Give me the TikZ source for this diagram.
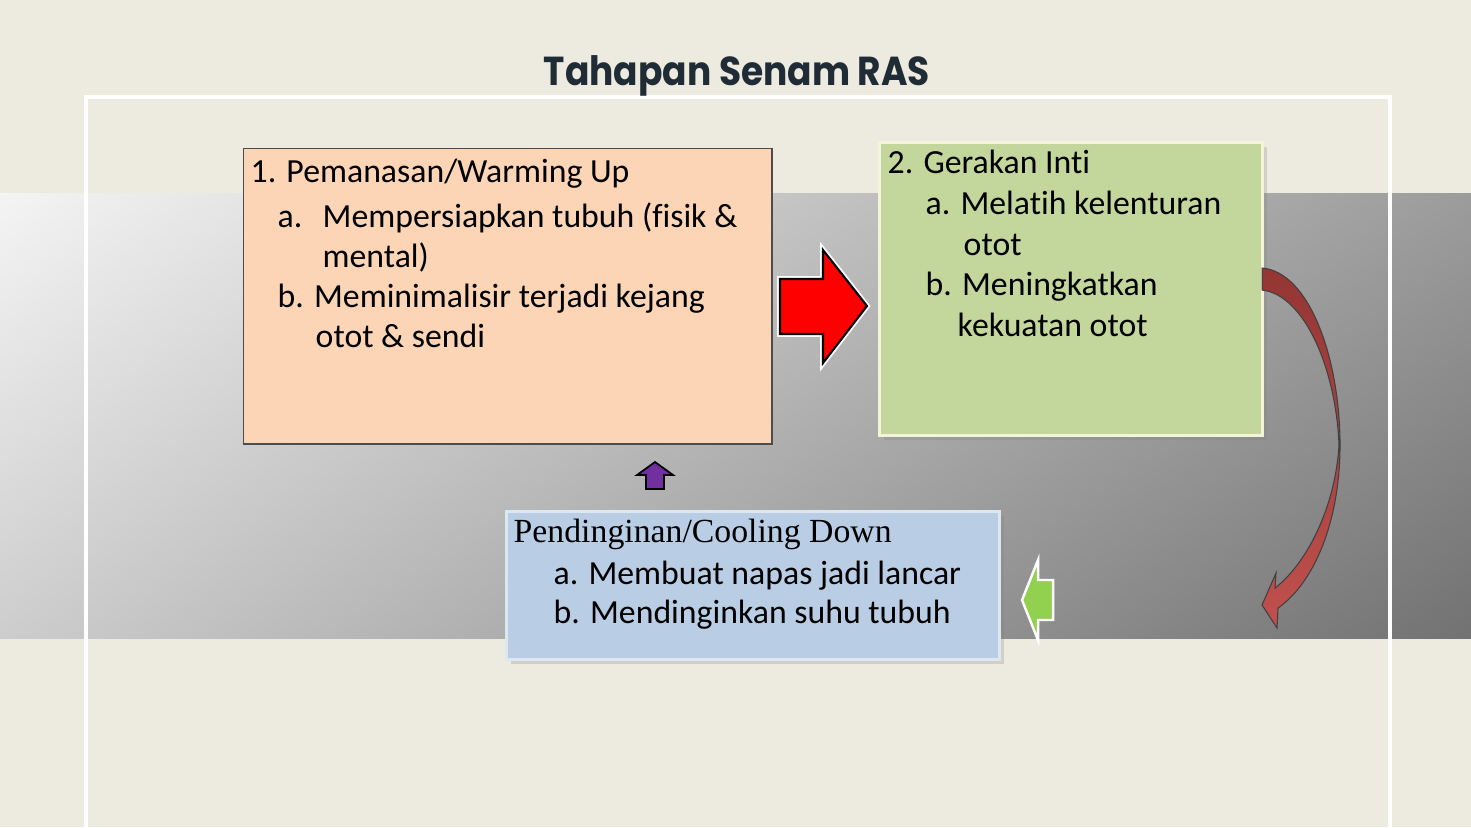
\documentclass[tikz,border=0pt]{standalone}
\usepackage{fontspec}
\setmainfont{Carlito}[Ligatures=NoCommon]
\newfontfamily\serifline{Liberation Serif}
\newfontfamily\titlefont{Poppins}
\usetikzlibrary{shadows,shadings}

\definecolor{slidebg}{HTML}{EDEAE0}
\definecolor{bandUL}{HTML}{F4F4F4}
\definecolor{bandUR}{HTML}{9C9C9C}
\definecolor{bandLL}{HTML}{CDCDCD}
\definecolor{bandLR}{HTML}{727272}
\definecolor{titleink}{HTML}{1F2C35}
\definecolor{warmfill}{HTML}{FBD5B5}
\definecolor{intifill}{HTML}{C3D69B}
\definecolor{intiedge}{HTML}{F4F4D8}
\definecolor{coolfill}{HTML}{B9CDE5}
\definecolor{cooledge}{HTML}{DDE7F2}
\definecolor{curvetop}{HTML}{943634}
\definecolor{curvebot}{HTML}{C0504D}
\definecolor{upfill}{HTML}{7030A0}
\definecolor{backfill}{HTML}{92D050}

\begin{document}
\begin{tikzpicture}[x=0.01cm, y=-0.01cm,
  txt/.style={anchor=base west, inner sep=0pt, font=\fontsize{9.6}{11.6}\selectfont},
  stagebox/.style={anchor=north west, inner sep=0pt, draw}]
% Background
\fill[slidebg] (0,0) rectangle (1471,827);
\shade[upper left=bandUL, upper right=bandUR, lower left=bandLL, lower right=bandLR]
  (0,193) rectangle (1471,638);
\useasboundingbox (0,0) rectangle (1471,827);

% White frame
\draw[white, line width=1.1pt] (86,827) -- (86,97) -- (1390,97) -- (1390,827);

% Title
\node[anchor=base, inner sep=0pt, text=titleink, font=\titlefont\bfseries\fontsize{11.5}{14}\selectfont] (title) at (737,85) {\scalebox{0.89}[1]{Tahapan Senam RAS}};

% Boxes
\node[stagebox, fill=warmfill, draw=black!70, line width=0.4pt, minimum width=5.28cm, minimum height=2.95cm] (warm) at (243,148) {};
\node[stagebox, fill=intifill, draw=intiedge, line width=0.8pt, minimum width=3.83cm, minimum height=2.93cm,
  drop shadow={shadow xshift=1.2pt, shadow yshift=-1.2pt, opacity=0.25}] (inti) at (878,141) {};
\node[stagebox, fill=coolfill, draw=cooledge, line width=0.8pt, minimum width=4.93cm, minimum height=1.48cm,
  drop shadow={shadow xshift=1.2pt, shadow yshift=-1.2pt, opacity=0.25}] (cool) at (505,510) {};

% Lines of Pemanasan
\node[txt] (warm1) at (250,182) {1. Pemanasan/Warming Up};
\node[txt] (warm2) at (277,227) {a.};
\node[txt] (warm2b) at (322,227) {Mempersiapkan tubuh (fisik \&};
\node[txt] (warm3) at (322,267) {mental)};
\node[txt] (warm4) at (277,307) {b. Meminimalisir terjadi kejang};
\node[txt] (warm5) at (315,347) {otot \& sendi};

% Lines of Gerakan Inti
\node[txt] (inti1) at (887,173) {2. Gerakan Inti};
\node[txt] (inti2) at (925,214) {a. Melatih kelenturan};
\node[txt] (inti3) at (963,255) {otot};
\node[txt] (inti4) at (925,295) {b. Meningkatkan};
\node[txt] (inti5) at (957,336) {kekuatan otot};

% Lines of Pendinginan
\node[txt, font=\serifline\fontsize{9.6}{11.6}\selectfont] (cool1) at (513,542) {Pendinginan/Cooling Down};
\node[txt] (cool2) at (553,584) {a. Membuat napas jadi lancar};
\node[txt] (cool3) at (553,623) {b. Mendinginkan suhu tubuh};

% Red block arrow
\draw[white, line width=1.6pt, line join=miter]
  (780,279) -- (823,279) -- (823,250) -- (867,306) -- (823,363) -- (823,334) -- (780,334) -- cycle;
\filldraw[fill=red, draw=black, line width=0.6pt, line join=miter]
  (780,279) -- (823,279) -- (823,250) -- (867,306) -- (823,363) -- (823,334) -- (780,334) -- cycle;

% Curved arrow
\path[top color=curvetop, bottom color=curvebot, draw=black!75, line width=0.3pt]
  (1262,268) .. controls (1310,272) and (1340,360) .. (1340,445)
  .. controls (1340,520) and (1315,582) .. (1278,608)
  -- (1277,628) -- (1262,605) -- (1276,573) -- (1275,588)
  .. controls (1305,565) and (1335,510) .. (1339,445)
  .. controls (1336,370) and (1305,295) .. (1262,290) -- cycle;

% Small arrows
\filldraw[fill=upfill, draw=black, line width=0.5pt]
  (646,489) -- (646,475) -- (637,475) -- (655,462) -- (673,475) -- (664,475) -- (664,489) -- cycle;
\filldraw[fill=backfill, draw=white, line width=0.7pt]
  (1053,580) -- (1038,580) -- (1038,560) -- (1022,600) -- (1038,640) -- (1038,620) -- (1053,620) -- cycle;

\end{tikzpicture}
\end{document}
